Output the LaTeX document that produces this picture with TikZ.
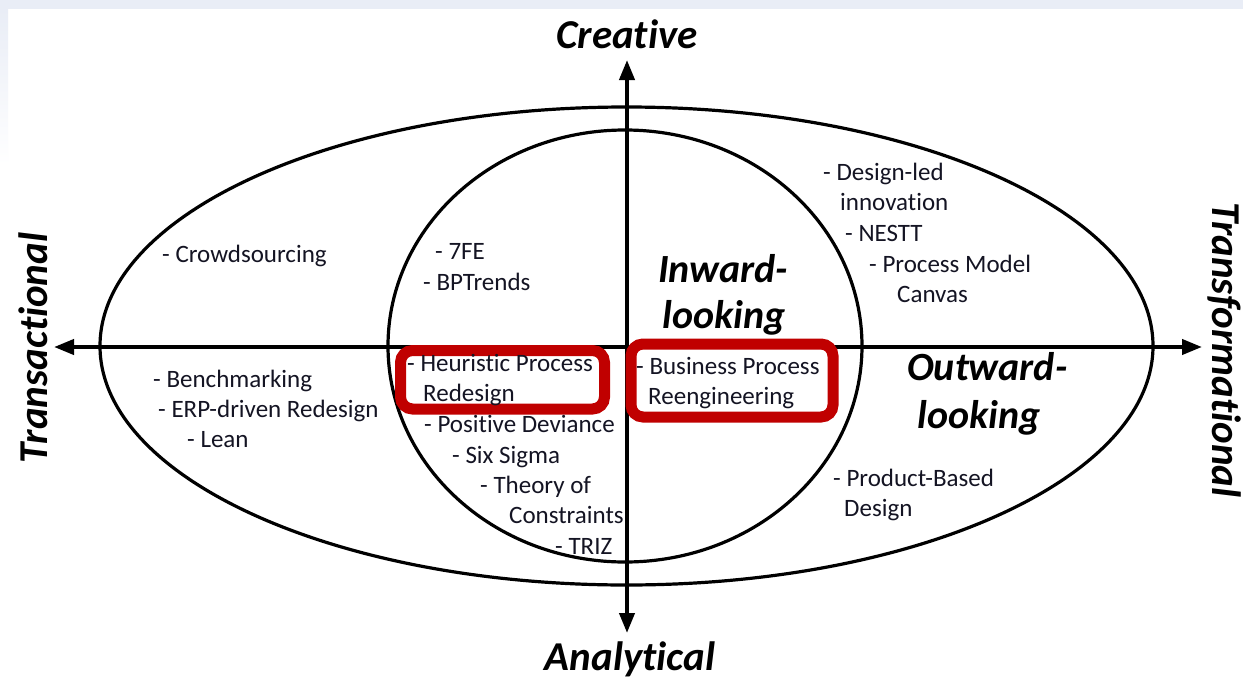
\documentclass[tikz,border=0pt]{standalone}
\usepackage{fontspec}
\setmainfont{Carlito}[Ligatures=NoCommon]
\usetikzlibrary{arrows.meta}
\definecolor{hlred}{RGB}{192,0,0}
\definecolor{slidebg}{RGB}{233,237,246}
\definecolor{inktext}{RGB}{20,20,35}
\tikzset{
  item/.style={anchor=base west, inner sep=0pt, text=inktext, font=\fontsize{25}{30}\selectfont},
  biglabel/.style={inner sep=0pt, font=\fontsize{40}{44}\selectfont\bfseries\itshape},
  axislabel/.style={biglabel, font=\fontsize{41}{45}\selectfont\bfseries\itshape},
  axis/.style={line width=4pt, -{Triangle[length=20pt,width=15pt]}},
  ring/.style={line width=3.2pt},
  redbox/.style={draw=hlred, line width=11pt, rounded corners=12pt}
}
\begin{document}
\begin{tikzpicture}[x=1pt,y=-1pt]
\useasboundingbox (0,0) rectangle (1243,683);
\fill[white] (0,0) rectangle (1243,683);
% faint frame of the slide
\fill[slidebg] (0,0) rectangle (1243,9);
\shade[top color=slidebg, bottom color=white] (0,9) rectangle (8,165);

% ellipses
\draw[ring] (626.5,346) ellipse [x radius=526.5, y radius=239];
\draw[ring] (625,346) ellipse [x radius=237, y radius=216];

% axes
\coordinate (L) at (54,347);
\coordinate (R) at (1202,347);
\coordinate (T) at (627,60);
\coordinate (B) at (627,633);
\coordinate (Lm) at (627,347);
\draw[axis] (Lm) -- (L);
\draw[axis] (Lm) -- (R);
\draw[axis] (Lm) -- (T);
\draw[axis] (Lm) -- (B);

% axis labels
\node[axislabel, anchor=base] (creative) at (627,48) {Creative};
\node[axislabel, anchor=base] (analytical) at (630,670) {Analytical};
\node[axislabel, rotate=90] (trans) at (33,348) {Transactional};
\node[axislabel, rotate=-90] (transf) at (1224,350) {Transformational};

% region labels
\node[biglabel, anchor=base west] (in1) at (658,282) {Inward-};
\node[biglabel, anchor=base west] (in2) at (662,328) {looking};
\node[biglabel, anchor=base west] (out1) at (907,380) {Outward-};
\node[biglabel, anchor=base west] (out2) at (917,428) {looking};

% red highlight boxes
\draw[redbox] (400.5,350.5) rectangle (604.5,409);
\draw[redbox] (631,344) rectangle (833,417);

% items
\node[item] (crowd) at (162,262) {- Crowdsourcing};
\node[item] (fe) at (435,259) {- 7FE};
\node[item] (bpt) at (423,290) {- BPTrends};
\node[item] (dl1) at (823,180) {- Design-led};
\node[item] (dl2) at (840,210) {innovation};
\node[item] (nestt) at (845,241) {- NESTT};
\node[item] (pmc1) at (869,272) {- Process Model};
\node[item] (pmc2) at (897,302) {Canvas};
\node[item] (bench) at (153,387) {- Benchmarking};
\node[item] (erp) at (158,417) {- ERP-driven Redesign};
\node[item] (lean) at (187,447) {- Lean};
\node[item] (hpr1) at (407,371) {- Heuristic Process};
\node[item] (hpr2) at (423,401) {Redesign};
\node[item] (pd) at (424,432) {- Positive Deviance};
\node[item] (ss) at (452,463) {- Six Sigma};
\node[item] (toc1) at (480,493) {- Theory of};
\node[item] (toc2) at (509,523) {Constraints};
\node[item] (triz) at (555,554) {- TRIZ};
\node[item] (bpr1) at (636,374) {- Business Process};
\node[item] (bpr2) at (648,404) {Reengineering};
\node[item] (pbd1) at (833,486) {- Product-Based};
\node[item] (pbd2) at (844,516) {Design};
\end{tikzpicture}
\end{document}
